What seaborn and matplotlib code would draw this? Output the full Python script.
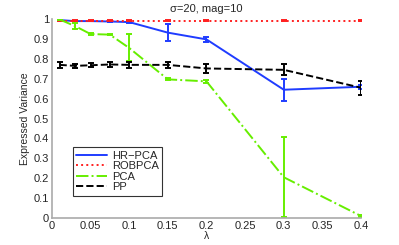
import numpy as np
import pandas as pd
import matplotlib
matplotlib.use("Agg")
import matplotlib.pyplot as plt
import seaborn as sns

lam = [0.01, 0.03, 0.05, 0.075, 0.1, 0.15, 0.2, 0.3, 0.4]
hrpca = [0.995, 0.99, 0.99, 0.988, 0.985, 0.932, 0.898, 0.645, 0.66]
hrpca_err = [0.002, 0.002, 0.002, 0.003, 0.004, 0.042, 0.012, 0.056, 0.01]
robpca = [0.992, 0.992, 0.992, 0.992, 0.992, 0.992, 0.992, 0.992, 0.992]
robpca_err = [0.002, 0.002, 0.002, 0.002, 0.002, 0.002, 0.002, 0.002, 0.002]
pca = [0.998, 0.965, 0.925, 0.922, 0.855, 0.697, 0.687, 0.205, 0.01]
pca_err = [0.002, 0.014, 0.003, 0.003, 0.068, 0.005, 0.006, 0.2, 0.005]
pp = [0.77, 0.765, 0.768, 0.772, 0.77, 0.77, 0.752, 0.745, 0.655]
pp_err = [0.016, 0.01, 0.01, 0.012, 0.014, 0.015, 0.022, 0.027, 0.035]

names = ["HR\u2212PCA", "ROBPCA", "PCA", "PP"]
colors = ["#1f3cff", "#ff2020", "#66ee00", "#000000"]
styles = ["-", ":", "-.", "--"]
series = [hrpca, robpca, pca, pp]
errs = [hrpca_err, robpca_err, pca_err, pp_err]

df = pd.concat([pd.DataFrame({"lam": lam, "val": s, "method": n}) for s, n in zip(series, names)])

sns.set_style("white")
plt.rcParams["font.family"] = ["Liberation Sans", "DejaVu Sans"]
fig = plt.figure(figsize=(3.99, 2.45), dpi=100)
ax = fig.add_axes([0.130, 0.110, 0.775, 0.812])

for n, c, ls, e in zip(names, colors, styles, errs):
    sub = df[df["method"] == n]
    sns.lineplot(data=sub, x="lam", y="val", ax=ax, color=c, linestyle=ls,
                 linewidth=1.4, label=n)
    ax.errorbar(sub["lam"], sub["val"], yerr=e, fmt="none", ecolor=c,
                elinewidth=1.4, capsize=2.2, capthick=1.4)

ax.set_xlim(0, 0.4)
ax.set_ylim(0, 1)
ax.set_xticks([0, 0.05, 0.1, 0.15, 0.2, 0.25, 0.3, 0.35, 0.4])
ax.set_xticklabels(["0", "0.05", "0.1", "0.15", "0.2", "0.25", "0.3", "0.35", "0.4"])
ax.set_yticks(np.arange(0, 1.01, 0.1))
ax.set_yticklabels(["0", "0.1", "0.2", "0.3", "0.4", "0.5", "0.6", "0.7", "0.8", "0.9", "1"])
ax.tick_params(direction="in", length=2.5, width=0.8, labelsize=8, color="#999999", pad=2)
for s in ["top", "right"]:
    ax.spines[s].set_visible(False)
for s in ["left", "bottom"]:
    ax.spines[s].set_color("#aaaaaa")
    ax.spines[s].set_linewidth(1.2)
ax.set_xlabel("\u03bb", fontsize=7.5, labelpad=0)
ax.set_ylabel("Expressed Variance", fontsize=7.5, labelpad=3)
ax.set_title("\u03c3=20, mag=10", fontsize=8, pad=5)

leg = ax.legend(loc="lower left", bbox_to_anchor=(0.05, 0.085), fontsize=8,
                frameon=True, fancybox=False, edgecolor="black", handlelength=2.8,
                labelspacing=0.05, borderpad=0.3, handletextpad=0.4)
leg.get_frame().set_linewidth(0.8)

fig.savefig("out.png", dpi=100)
